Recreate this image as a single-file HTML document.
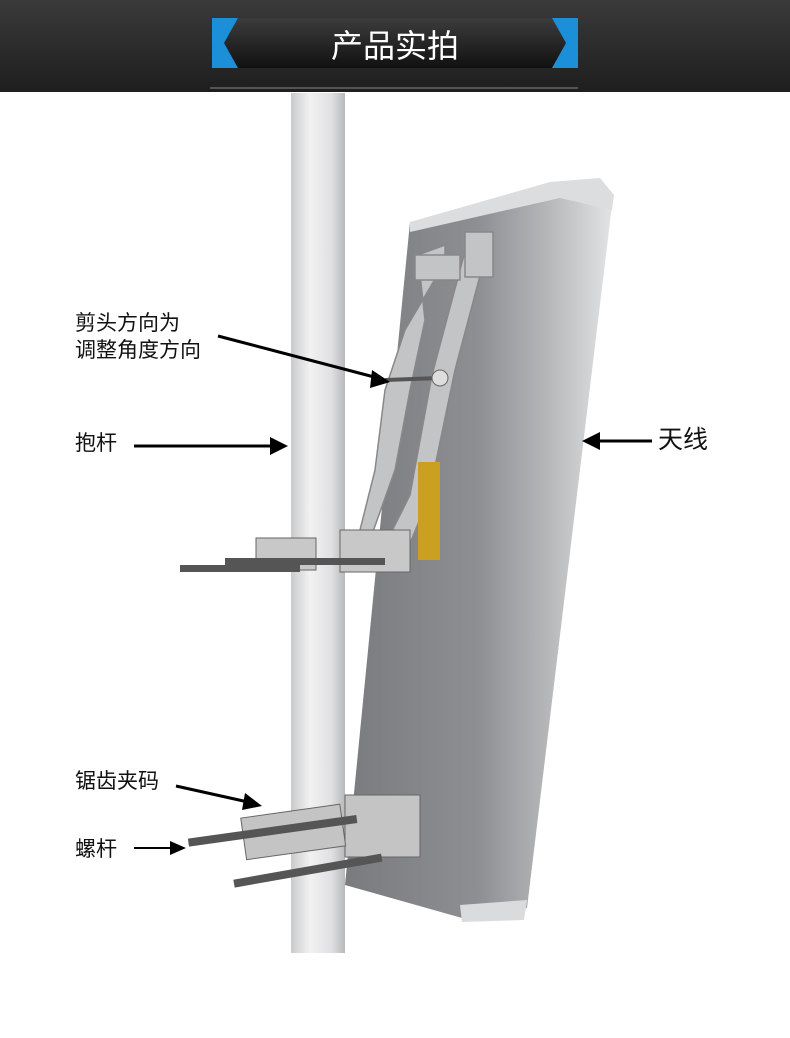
<!DOCTYPE html>
<html><head><meta charset="utf-8"><style>
body{margin:0;width:790px;height:1038px;background:#fff;overflow:hidden;position:relative;font-family:"Liberation Sans","Noto Sans CJK SC",sans-serif}
.hdr{position:absolute;left:0;top:0;width:790px;height:92px;background:linear-gradient(#3a3a3a,#1e1e1e)}
.lbl{position:absolute;color:#111;font-size:21px;line-height:27px}
</style></head><body>
<div class="hdr"></div>
<svg width="790" height="1038" style="position:absolute;left:0;top:0">
<defs>
<linearGradient id="tb" x1="0" y1="0" x2="0" y2="1"><stop offset="0" stop-color="#3c3c3c"/><stop offset="1" stop-color="#111"/></linearGradient>
<linearGradient id="pole" x1="0" y1="0" x2="1" y2="0"><stop offset="0" stop-color="#c9cacc"/><stop offset="0.35" stop-color="#f2f2f2"/><stop offset="0.75" stop-color="#e0e0e2"/><stop offset="1" stop-color="#b8b9bb"/></linearGradient>
<linearGradient id="back" x1="0" y1="0" x2="1" y2="0"><stop offset="0" stop-color="#7a7b7e"/><stop offset="0.5" stop-color="#8e8f92"/><stop offset="0.75" stop-color="#b4b5b7"/><stop offset="1" stop-color="#e2e3e4"/></linearGradient>
</defs>
<rect x="212" y="18" width="366" height="50" fill="url(#tb)"/>
<polygon points="212,18 238,18 224,43 238,68 212,68" fill="#1b8fd8"/>
<polygon points="578,18 552,18 566,43 552,68 578,68" fill="#1b8fd8"/>
<line x1="210" y1="88" x2="578" y2="88" stroke="#888" stroke-width="1"/>
<text x="395" y="57" fill="#fff" font-size="32" text-anchor="middle" font-family="Liberation Sans,Noto Sans CJK SC,sans-serif">产品实拍</text>
<rect x="291" y="93" width="54" height="860" fill="url(#pole)"/>
<polygon points="410,222 560,192 612,205 527,908 462,918 345,885" fill="url(#back)"/>
<polygon points="410,222 550,182 600,178 614,195 612,210 560,198 410,232" fill="#dcdddf"/>
<polygon points="460,905 527,900 524,920 462,922" fill="#dadbdc"/>
<g fill="#c3c4c6" stroke="#888" stroke-width="1.5">
<polygon points="418,255 445,245 445,262 405,330 385,390 375,470 360,530 370,540 395,470 410,390 425,320"/>
<polygon points="468,240 490,238 455,370 428,500 405,555 385,545 410,495 432,375"/>
<rect x="465" y="232" width="28" height="45"/>
<rect x="415" y="255" width="45" height="25"/>
</g>
<line x1="385" y1="380" x2="440" y2="378" stroke="#555" stroke-width="4"/>
<circle cx="440" cy="378" r="8" fill="#ddd" stroke="#666"/>
<rect x="418" y="462" width="22" height="98" fill="#c9a020"/>
<rect x="256" y="538" width="60" height="32" fill="#c8c8c8" stroke="#666"/>
<rect x="340" y="530" width="70" height="42" fill="#c8c8c8" stroke="#666"/>
<rect x="180" y="565" width="120" height="7" fill="#555"/>
<rect x="225" y="558" width="160" height="7" fill="#555"/>
<rect x="345" y="795" width="75" height="62" fill="#c4c4c4" stroke="#666"/>
<rect x="243" y="810" width="100" height="42" fill="#c4c4c4" stroke="#666" transform="rotate(-8 300 830)"/>
<rect x="188" y="830" width="170" height="8" fill="#555" transform="rotate(-8 250 835)"/>
<rect x="233" y="868" width="150" height="8" fill="#555" transform="rotate(-10 300 872)"/>
<g stroke="#000" stroke-width="3" fill="#000">
<line x1="218" y1="336" x2="378" y2="378"/><polygon points="390,382 372,370 370,388" stroke="none"/>
<line x1="134" y1="446" x2="272" y2="446"/><polygon points="288,446 270,437 270,455" stroke="none"/>
<line x1="652" y1="441" x2="598" y2="441"/><polygon points="582,441 600,432 600,450" stroke="none"/>
<line x1="176" y1="786" x2="248" y2="802"/><polygon points="262,806 245,793 242,810" stroke="none"/>
<line x1="134" y1="848" x2="172" y2="848" stroke-width="2"/><polygon points="186,848 170,841 170,855" stroke="none"/>
</g>
</svg>
<div class="lbl" style="left:75px;top:310px">剪头方向为<br>调整角度方向</div>
<div class="lbl" style="left:75px;top:430px">抱杆</div>
<div class="lbl" style="left:658px;top:427px;font-size:25px">天线</div>
<div class="lbl" style="left:75px;top:768px">锯齿夹码</div>
<div class="lbl" style="left:75px;top:836px">螺杆</div>
</body></html>
